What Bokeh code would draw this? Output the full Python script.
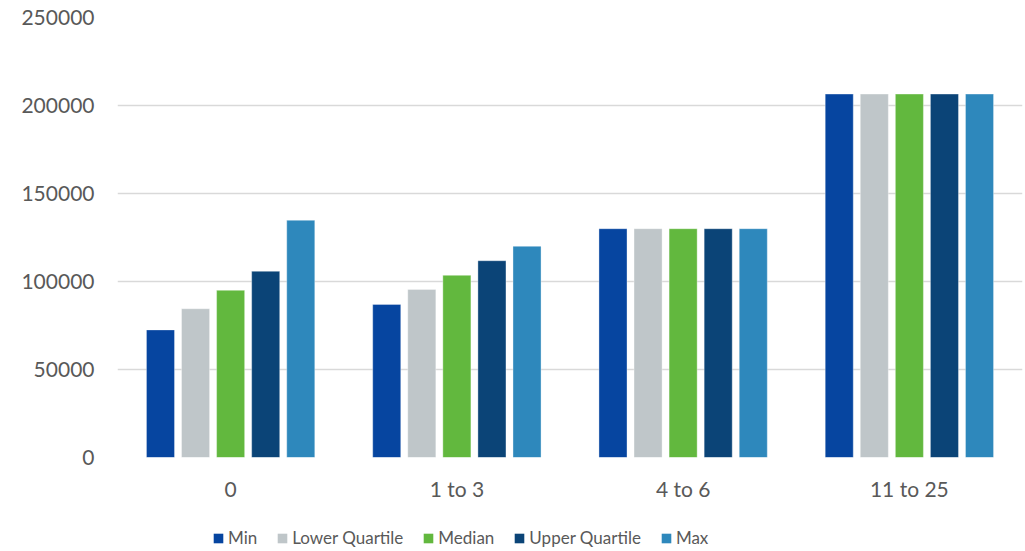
from bokeh.plotting import figure
from bokeh.layouts import column
from bokeh.models import ColumnDataSource, FactorRange, FixedTicker, Legend, LegendItem, Range1d
from bokeh.transform import dodge
from bokeh.embed import file_html
from bokeh.resources import INLINE

categories = ["0", "1 to 3", "4 to 6", "11 to 25"]
series_names = ["Min", "Lower Quartile", "Median", "Upper Quartile", "Max"]
min_vals = [72500, 87000, 130000, 206500]
lower_quartile = [84500, 95500, 130000, 206500]
median_vals = [95000, 103500, 130000, 206500]
upper_quartile = [105800, 111800, 130000, 206500]
max_vals = [134800, 120000, 130000, 206500]
y_ticks = [0, 50000, 100000, 150000, 200000, 250000]
colors = ["#0645A0", "#BFC6C9", "#62B83E", "#0B4477", "#2E88BC"]

source = ColumnDataSource(dict(
    cats=categories,
    s0=min_vals, s1=lower_quartile, s2=median_vals, s3=upper_quartile, s4=max_vals,
))

FONT = "Lato"
TXT = "#595959"

p = figure(x_range=FactorRange(*categories, range_padding=0), y_range=Range1d(0, 250000),
           frame_width=905, frame_height=440, output_backend="svg", toolbar_location=None,
           min_border_left=117, min_border_right=1, min_border_top=17, min_border_bottom=64)

offsets = [-0.31, -0.155, 0.0, 0.155, 0.31]
for i, (name, col, off) in enumerate(zip(series_names, colors, offsets)):
    p.vbar(x=dodge("cats", off, range=p.x_range), top=f"s{i}", width=0.124, source=source,
           fill_color=col, line_color="white", line_alpha=0.35, line_width=1)

p.outline_line_color = None
p.xgrid.grid_line_color = None
p.ygrid.grid_line_color = "#D9D9D9"
p.ygrid.grid_line_width = 1.5
p.yaxis.ticker = FixedTicker(ticks=y_ticks)
p.yaxis.formatter.use_scientific = False
for ax in (p.xaxis[0], p.yaxis[0]):
    ax.axis_line_color = None
    ax.major_tick_line_color = None
    ax.minor_tick_line_color = None
    ax.major_label_text_font = FONT
    ax.major_label_text_font_size = "21px"
    ax.major_label_text_color = TXT
p.yaxis.major_label_standoff = 17
p.xaxis.major_label_standoff = 12

# legend strip below the chart (swatch renderers are hidden; only the legend shows)
lg = figure(x_range=FactorRange(*categories), y_range=Range1d(0, 250000),
            frame_width=1023, frame_height=30, output_backend="svg", toolbar_location=None,
            x_axis_type=None, y_axis_type=None, min_border=0)
lg.outline_line_color = None
lg.xgrid.grid_line_color = None
lg.ygrid.grid_line_color = None
items = []
for i, (name, col) in enumerate(zip(series_names, colors)):
    r = lg.vbar(x="cats", top=f"s{i}", width=0.1, source=source,
                fill_color=col, line_color=None, visible=False)
    items.append(LegendItem(label=name, renderers=[r]))
legend = Legend(items=items, orientation="horizontal", location=(212, 3),
                glyph_width=12, glyph_height=12, label_standoff=4, spacing=19,
                label_text_font=FONT, label_text_font_size="17px", label_text_color=TXT,
                border_line_color=None, background_fill_alpha=0, padding=0, margin=0,
                click_policy="none")
lg.add_layout(legend, "center")

layout = column(p, lg, spacing=0)
open("out.html", "w").write(file_html(layout, INLINE))
